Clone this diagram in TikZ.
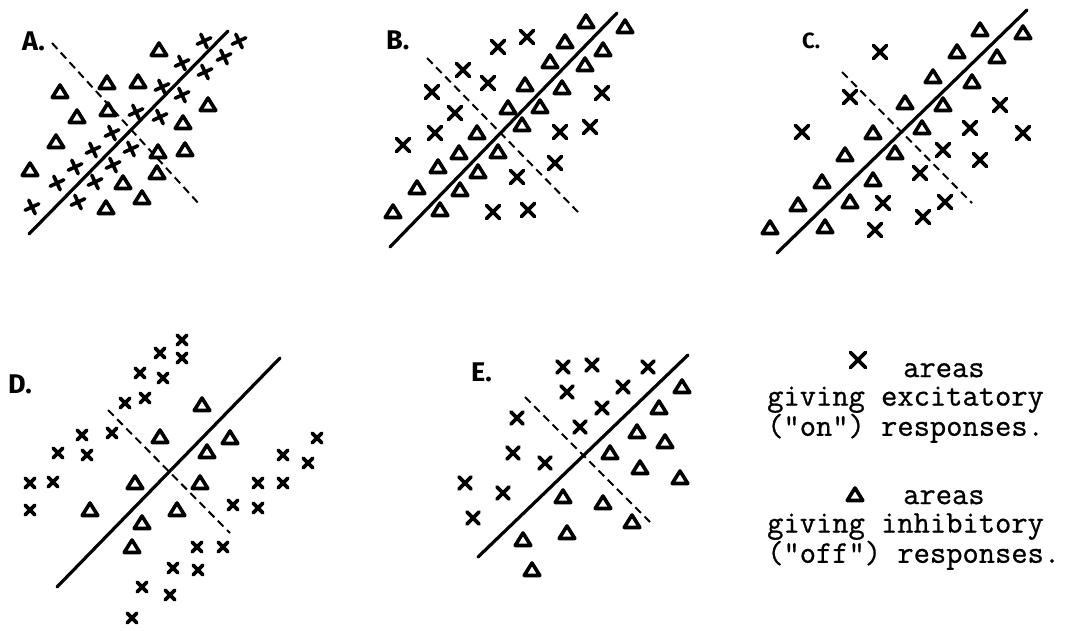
\documentclass[tikz,border=0pt]{standalone}
\usepackage{fontspec}
\setsansfont{Fira Sans}
\newfontfamily\typew[FakeBold=0.8]{Latin Modern Mono}
\newcommand\mytri[2]{\draw[mk] (#1,#2) ++(0,-7) -- ++(7.8,12.5) -- ++(-15.6,0) -- cycle;}
\newcommand\myx[3]{\draw[mk] (#1-#3,#2-#3) -- (#1+#3,#2+#3) (#1-#3,#2+#3) -- (#1+#3,#2-#3);}
\newcommand\myplus[2]{\draw[mk] (#1,#2) ++(-25:7.5) -- ++(155:15) (#1,#2) ++(65:7.5) -- ++(245:15);}
\begin{document}
\begin{tikzpicture}[x=1pt,y=-1pt,
  sol/.style={line width=3.2pt,line cap=round},
  dsh/.style={line width=2pt,dash pattern=on 8pt off 5pt},
  mk/.style={line width=3.6pt,line cap=round,line join=round},
  lbl/.style={font=\sffamily\bfseries\fontsize{27}{27}\selectfont, inner sep=0, anchor=west},
  leg/.style={font=\typew\fontsize{31.6}{28.5}\selectfont, inner sep=0, anchor=north west, align=left}]
\useasboundingbox (0,0) rectangle (1083,630);

% ---------- Panel A ----------
\node[lbl] (labA) at (22,41) {A.};
\coordinate (A1) at (29,234); \coordinate (A2) at (228,31);
\coordinate (A3) at (52,43);  \coordinate (A4) at (200,205);
\draw[sol] (A1) -- (A2);
\draw[dsh] (A3) -- (A4);
\foreach \x/\y in {159/50,107/83,138/82,60/92,77/117,108/110,56/142,30/170,183/123,208/105,185/150,158/152,157/173,123/183,142/198,106/208}
  {\mytri{\x}{\y}}
\foreach \x/\y in {204/41,239/41,224/57,182/63,205/72,162/87,182/95,136/112,160/117,112/133,93/150,131/149,113/165,75/167,57/183,95/182,78/202,32/207}
  {\myplus{\x}{\y}}

% ---------- Panel B ----------
\node[lbl] (labB) at (386,40) {B.};
\coordinate (B1) at (390,247); \coordinate (B2) at (617,13);
\coordinate (B3) at (427,58);  \coordinate (B4) at (578,212);
\draw[sol] (B1) -- (B2);
\draw[dsh] (B3) -- (B4);
\foreach \x/\y in {586/22,625/27,565/42,603/50,550/62,585/65,525/85,562/88,508/108,540/107,477/133,522/125,498/152,459/153,438/167,478/172,417/188,460/190,393/212,440/210}
  {\mytri{\x}{\y}}
\foreach \x/\y in {498/47,527/37,463/70,488/83,432/92,602/93,455/113,435/133,403/145,560/132,590/127,555/163,517/177,493/212,528/210}
  {\myx{\x}{\y}{6.5}}

% ---------- Panel C ----------
\node[lbl,font=\sffamily\bfseries\fontsize{22}{22}\selectfont] (labC) at (802,41) {C.};
\coordinate (C1) at (777,253); \coordinate (C2) at (1027,10);
\coordinate (C3) at (842,72);  \coordinate (C4) at (972,203);
\draw[sol] (C1) -- (C2);
\draw[dsh] (C3) -- (C4);
\foreach \x/\y in {980/30,1023/33,957/52,997/57,933/77,972/82,905/103,943/105,873/133,922/128,845/155,895/153,822/182,873/180,798/205,850/202,770/228,825/227}
  {\mytri{\x}{\y}}
\foreach \x/\y in {880/52,850/97,802/132,1000/105,970/128,1023/133,943/150,980/160,920/173,883/203,945/202,923/217,875/230}
  {\myx{\x}{\y}{6.5}}

% ---------- Panel D ----------
\node[lbl] (labD) at (8,384) {D.};
\coordinate (D1) at (57,587); \coordinate (D2) at (280,358);
\coordinate (D3) at (108,410); \coordinate (D4) at (230,533);
\draw[sol] (D1) -- (D2);
\draw[dsh] (D3) -- (D4);
\foreach \x/\y in {202/405,160/437,230/438,207/452,135/483,200/483,90/510,177/510,142/523,132/547}
  {\mytri{\x}{\y}}
\foreach \x/\y in {182/340,182/358,160/353,140/373,163/378,125/403,145/398,82/435,112/433,58/453,87/455,30/483,53/482,30/510,317/438,283/455,308/463,258/483,283/483,233/505,258/508,197/547,223/547,173/568,198/570,142/587,170/595,132/618}
  {\myx{\x}{\y}{4.8}}

% ---------- Panel E ----------
\node[lbl] (labE) at (471,372) {E.};
\coordinate (E1) at (478,557); \coordinate (E2) at (688,355);
\coordinate (E3) at (525,397); \coordinate (E4) at (650,522);
\draw[sol] (E1) -- (E2);
\draw[dsh] (E3) -- (E4);
\foreach \x/\y in {682/387,659/408,637/432,665/442,610/453,640/468,680/478,563/497,603/503,632/522,523/540,567/533,532/570}
  {\mytri{\x}{\y}}
\foreach \x/\y in {563/367,592/365,648/367,567/392,623/387,602/408,517/418,580/427,513/453,545/463,465/483,503/493,473/518}
  {\myx{\x}{\y}{6}}

% ---------- Legend ----------
\myx{858}{360}{7.5}
\node[leg] (legon) at (767,363) {\hspace*{136pt}areas\\giving excitatory\\("on") responses.};
\mytri{855}{495}
\node[leg] (legoff) at (767,490) {\hspace*{136pt}areas\\giving inhibitory\\("off") responses.};
\end{tikzpicture}
\end{document}
